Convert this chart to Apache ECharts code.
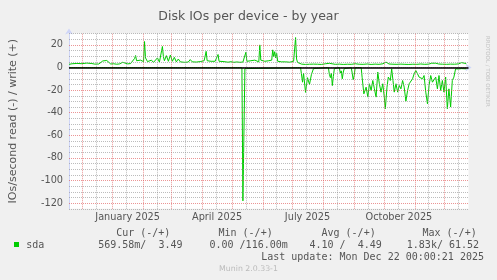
<!DOCTYPE html>
<html><head><meta charset="utf-8">
<script src="https://cdn.jsdelivr.net/npm/echarts@6/dist/echarts.min.js"></script>
<style>html,body{margin:0;padding:0;background:#F0F0F0}#c{width:497px;height:280px}</style>
</head><body><div id="c"></div>
<script>
// ---- data (x = day offset from 2024-11-18, values in IOs/second) ----
const writeDays = [0,3,5,8,10,13,15,18,20,23,26,28,30,32,34,36,38,40,42,45,48,51,54,56,59,62,64,66,67,68,70,72,74,75,76,77,79,81,83,85,87,89,91,93,94,95,96,98,100,102,104,106,108,110,112,114,116,118,120,122,124,126,128,130,132,134,136,137,138,139,141,143,145,147,149,150,151,153,155,157,160,163,166,169,172,175,177,178,179,181,183,185,187,189,191,192,193,195,197,199,201,203,204,205,206,207,208,209,210,212,214,216,218,220,222,224,226,227,228,229,230,232,234,236,238,240,242,244,246,250,254,258,260,262,264,268,272,276,280,284,288,292,296,300,304,308,312,316,319,322,326,330,334,338,342,346,350,354,358,362,365,367,369,372,376,380,384,388,392,395,397,399.7];
const writeValues = [2.8,3.3,2.5,3.6,2.7,3.4,2.6,3.9,3.0,3.5,3.0,4.3,3.1,3.2,5.8,6.6,6.2,5.8,3.1,3.3,2.9,3.2,4.6,3.0,3.2,3.5,3.9,8.0,10.6,6.0,4.6,6.5,5.0,5.2,23.0,8.5,5.2,4.8,6.5,4.5,5.5,8.5,4.8,6.5,18.6,9.5,6.0,10.5,5.5,11.0,5.5,9.0,5.0,7.5,5.0,6.5,4.6,6.0,4.8,7.0,5.0,5.5,4.8,6.5,5.2,5.0,6.0,5.5,14.3,6.0,5.0,5.5,4.8,5.5,5.0,11.5,5.5,4.8,5.3,5.0,4.7,5.1,4.6,4.9,4.6,4.8,4.7,13.5,5.5,4.6,6.0,5.0,6.5,4.8,5.0,20.0,6.5,5.0,5.5,4.7,6.0,5.0,6.5,15.6,9.5,14.0,8.5,12.5,5.5,6.0,5.0,6.5,5.0,5.5,4.7,5.0,5.5,6.5,26.5,7.5,4.5,3.5,3.0,3.4,2.7,3.2,2.9,3.9,3.0,2.9,2.7,3.3,4.8,3.7,2.9,2.8,3.0,2.7,2.9,2.8,3.3,2.9,2.8,3.1,2.7,3.0,2.8,3.3,4.8,3.1,2.9,2.8,3.0,2.8,2.7,2.9,2.8,3.1,2.8,3.0,3.8,5.2,3.8,3.1,2.9,2.8,3.0,2.9,3.2,4.3,3.3,3.5];
const readDays = [0,174,175,177,178,233,235,236,238,240,242,244,246,248,261,262,263,264,265,266,267,268,272,273,274,275,276,277,278,284,285,286,287,288,294,295,296.7,299,300.7,302.3,304,305.7,307.3,309,310.7,312.3,314,315.7,317.3,318.3,320,321.3,323.3,324.7,326,327.3,329,330.7,332.3,334,335.7,337.3,339,340.7,342.3,344,345.7,347.3,349,350.7,352.3,354,355.7,357.3,359,360.7,362.3,364,365.7,367.3,369,370.7,372.3,374,375.7,377.3,379,380.7,382.3,384,385.7,387.3,389,392,395,399.7];
const readValues = [0,0,-118,-1,0,0,-13,-5,-22,-9,-15,-6,-1,0,0,-6,-9,-5,-16,-8,-1,0,0,-5,-3,-10,-4,-1,0,0,-5,-11,-7,0,0,-9,-23.3,-17.4,-26.2,-14.4,-20.3,-11.5,-18.9,-26.2,-4.1,-14.4,-21.8,-14.4,-26.2,-36.5,-17.4,-8.5,-11.5,-1.2,-11.5,-21.8,-14.4,-21.8,-15.9,-18.9,-11.5,-17.4,-29.8,-20.3,-14.4,-15.9,-10,-5.6,-2.7,-5.6,-8.5,-7.1,-10,-7.1,-21.8,-32.1,-15.9,-7.1,-13,-14.4,-8.5,-18.9,-7.1,-20.3,-11.5,-21.8,-8.5,-36.5,-18.9,-35,-11.5,-8.5,-1.2,-1.3,-1.0,-1.2];
const monthStartDays = [13,44,75,103,134,164,195,225,256,287,317,348,378];   // 1st of Dec 2024 .. Dec 2025
const midMonthDays = [27,58,89,117,148,178,209,239,270,301,331,362,392];     // 15th of each month
const xLabelDays = [59,149,240,332];
const xLabels = ['January 2025','April 2025','July 2025','October 2025'];
const yLabelTicks = [-120,-100,-80,-60,-40,-20,0,20];
const legendHeads = ['Cur (-/+)','Min (-/+)','Avg (-/+)','Max (-/+)'];
const legendName = 'sda';
const legendValues = ['569.58m/  3.49','0.00 /116.00m','4.10 /  4.49','1.83k/ 61.52'];

const GREEN = '#00CC00', RED = 'rgba(222,79,79,0.6)', GRAY = 'rgba(143,143,143,0.6)';
const SANS = 'DejaVu Sans', MONO = 'DejaVu Sans Mono';

const hLines = [];
for (let v = -125; v <= 30; v += 5) {
  hLines.push({ yAxis: v, lineStyle: { color: v % 20 === 0 ? RED : GRAY } });
}
const vLines = [];
midMonthDays.forEach(d => vLines.push({ xAxis: d, lineStyle: { color: GRAY } }));
monthStartDays.forEach(d => vLines.push({ xAxis: d, lineStyle: { color: RED } }));
const labelLines = xLabelDays.map((d, i) => ({ xAxis: d, label: { formatter: xLabels[i] } }));

const chart = echarts.init(document.getElementById('c'), null, { renderer: 'canvas' });
chart.setOption({
  backgroundColor: '#F0F0F0',
  animation: false,
  title: { text: 'Disk IOs per device - by year', left: 'center', top: 5,
    textStyle: { fontFamily: SANS, fontSize: 12.5, fontWeight: 'normal', color: '#555' } },
  grid: { left: 66.5, top: 33.6, width: 402, height: 175.15, show: true, backgroundColor: '#FFFFFF', borderWidth: 0 },
  xAxis: {
    type: 'value', min: 0, max: 402,
    axisLine: { show: true, lineStyle: { color: '#CFD6F8', width: 1 }, symbol: ['none', 'arrow'], symbolSize: [6, 6], symbolOffset: [0, 3] },
    axisTick: { show: false }, splitLine: { show: false }, axisLabel: { show: false }
  },
  yAxis: {
    type: 'value', min: -125, max: 30, interval: 5,
    name: 'IOs/second read (-) / write (+)', nameLocation: 'middle', nameRotate: 90, nameGap: 50,
    nameTextStyle: { fontFamily: SANS, fontSize: 11, color: '#555' },
    axisLine: { show: true, lineStyle: { color: '#CFD6F8', width: 1 }, symbol: ['none', 'arrow'], symbolSize: [6, 6], symbolOffset: [0, 5] },
    axisTick: { show: false }, splitLine: { show: false },
    axisLabel: { formatter: v => (yLabelTicks.indexOf(v) >= 0 ? String(v) : ''),
      fontFamily: SANS, fontSize: 9.72, color: '#555', margin: 6 }
  },
  series: [
    { type: 'line', data: [], z: 1, silent: true,
      markLine: { silent: true, symbol: 'none', animation: false, label: { show: false },
        lineStyle: { width: 1, type: [1, 1] }, data: hLines.concat(vLines) } },
    { type: 'line', data: [], z: 1, silent: true,
      markLine: { silent: true, symbol: 'none', animation: false,
        lineStyle: { color: 'rgba(0,0,0,0)', width: 1 },
        label: { show: true, position: 'start', distance: 4, fontFamily: SANS, fontSize: 9.72, color: '#555' },
        data: labelLines } },
    { type: 'line', name: 'write', z: 3, showSymbol: false, symbol: 'none',
      lineStyle: { color: GREEN, width: 1 }, itemStyle: { color: GREEN },
      data: writeDays.map((d, i) => [d, writeValues[i]]) },
    { type: 'line', name: 'read', z: 3, showSymbol: false, symbol: 'none',
      lineStyle: { color: GREEN, width: 1 }, itemStyle: { color: GREEN },
      data: readDays.map((d, i) => [d, readValues[i]]),
      markLine: { silent: true, symbol: 'none', animation: false, label: { show: false },
        lineStyle: { color: '#000', width: 1.5, type: 'solid' }, data: [{ yAxis: 0 }] } }
  ],
  graphic: [
    { type: 'rect', shape: { x: 14, y: 242, width: 5, height: 5 }, style: { fill: GREEN } },
    ...legendHeads.map((s, i) => ({ type: 'text', x: [116.2, 218.5, 321.5, 422.5][i], y: 233.3,
      style: { text: s, font: '10px ' + MONO, fill: '#555', textVerticalAlign: 'middle' } })),
    { type: 'text', x: 26.2, y: 245.7, style: { text: legendName, font: '10px ' + MONO, fill: '#555', textVerticalAlign: 'middle' } },
    ...legendValues.map((s, i) => ({ type: 'text', x: [98.2, 209.5, 309.5, 406.8][i], y: 245.7,
      style: { text: s, font: '10px ' + MONO, fill: '#555', textVerticalAlign: 'middle' } })),
    { type: 'text', x: 261.2, y: 257.7, style: { text: 'Last update: Mon Dec 22 00:00:21 2025', font: '10px ' + MONO, fill: '#555', textVerticalAlign: 'middle' } },
    { type: 'text', x: 248.5, y: 269.3, style: { text: 'Munin 2.0.33-1', font: '7.8px ' + SANS, fill: '#BBB', textAlign: 'center', textVerticalAlign: 'middle' } },
    { type: 'text', x: 487, y: 36, rotation: -Math.PI / 2, style: { text: 'RRDTOOL / TOBI OETIKER', font: '5.5px ' + SANS, fill: '#C4C4C4', textAlign: 'left', textVerticalAlign: 'middle' } }
  ]
});
</script></body></html>
